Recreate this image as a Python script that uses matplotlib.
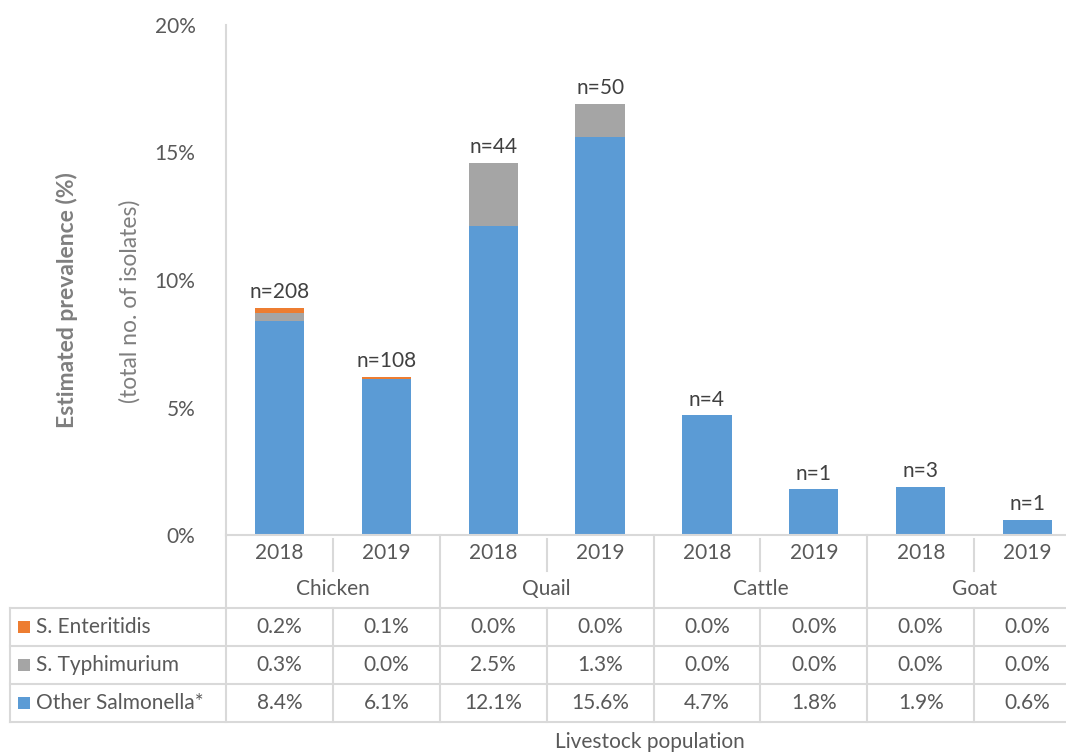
import matplotlib
matplotlib.use("Agg")
import matplotlib.pyplot as plt
from matplotlib.transforms import blended_transform_factory
import numpy as np

plt.rcParams['font.family'] = ['Lato', 'DejaVu Sans']

groups = ["Chicken", "Quail", "Cattle", "Goat"]
years = ["2018", "2019"]
series_names = ["S. Enteritidis", "S. Typhimurium", "Other Salmonella*"]
enteritidis = [0.2, 0.1, 0.0, 0.0, 0.0, 0.0, 0.0, 0.0]
typhimurium = [0.3, 0.0, 2.5, 1.3, 0.0, 0.0, 0.0, 0.0]
other = [8.4, 6.1, 12.1, 15.6, 4.7, 1.8, 1.9, 0.6]
n_labels = ["n=208", "n=108", "n=44", "n=50", "n=4", "n=1", "n=3", "n=1"]
colors = {"S. Enteritidis": "#ED7D31", "S. Typhimurium": "#A5A5A5", "Other Salmonella*": "#5B9BD5"}

W, H = 1066, 754
fig = plt.figure(figsize=(W / 100, H / 100), dpi=100)
ax = fig.add_axes([226 / W, (H - 535) / H, (1081 - 226) / W, 510 / H])

x = np.arange(len(other))
bw = 0.46
ax.bar(x, other, bw, color=colors["Other Salmonella*"], zorder=2)
ax.bar(x, typhimurium, bw, bottom=other, color=colors["S. Typhimurium"], zorder=2)
bot3 = np.array(other) + np.array(typhimurium)
ax.bar(x, enteritidis, bw, bottom=bot3, color=colors["S. Enteritidis"], zorder=2)
tot = bot3 + np.array(enteritidis)
for xi, t, lab in zip(x, tot, n_labels):
    ax.annotate(lab, (xi, t), xytext=(0, 4), textcoords="offset points",
                ha="center", va="bottom", fontsize=15, color="#404040")

ax.set_xlim(-0.5, len(other) - 0.5)
ax.set_ylim(0, 20)
ax.set_yticks([0, 5, 10, 15, 20])
ax.set_yticklabels([f"{v}%" for v in [0, 5, 10, 15, 20]], fontsize=15, color="#595959")
ax.tick_params(axis="y", length=0, pad=22)
ax.set_xticks([])
for s in ["top", "right", "bottom"]:
    ax.spines[s].set_visible(False)
ax.spines["left"].set_color("#D9D9D9")
ax.spines["left"].set_linewidth(1.5)

fig.text(67 / W, 1 - 300 / H, "Estimated prevalence (%)", rotation=90, ha="center", va="center",
         fontsize=16.5, fontweight="bold", color="#7F7F7F")
fig.text(130 / W, 1 - 301 / H, "(total no. of isolates)", rotation=90, ha="center", va="center",
         fontsize=16.5, color="#7F7F7F")

# table
def fy(py):
    return 1 - py / H

tr = blended_transform_factory(ax.transData, fig.transFigure)
ftr = fig.transFigure
gc = "#D9D9D9"
lw = 1.5
tc = "#595959"
fs = 15

y_axis = 535
y_year_mid = 553
y_grp_mid = 589
y_top = 608
row_h = 38
ncols = len(other)
edges = np.arange(ncols + 1) - 0.5

def vline(xv, py0, py1, transform):
    fig.add_artist(plt.Line2D([xv, xv], [fy(py0), fy(py1)], transform=transform, color=gc, lw=lw))

fig.add_artist(plt.Line2D([edges[0], edges[-1]], [fy(y_axis), fy(y_axis)], transform=tr, color=gc, lw=lw))
for i in range(ncols):
    fig.text(x[i], fy(y_year_mid), years[i % 2], transform=tr, ha="center", va="center",
             fontsize=fs, color=tc)
for g in range(len(groups)):
    vline(edges[2 * g + 1], y_axis + 4, 571, tr)
for g in range(len(groups) + 1):
    vline(edges[2 * g], y_axis, y_top, tr)
for g, name in enumerate(groups):
    fig.text(2 * g + 0.5, fy(y_grp_mid), name, transform=tr, ha="center", va="center",
             fontsize=fs, color=tc)

rows = [enteritidis, typhimurium, other]
nrow = len(rows)
left_px = 10
for r in range(nrow + 1):
    py = y_top + r * row_h
    fig.add_artist(plt.Line2D([left_px / W, 1.0], [fy(py), fy(py)], transform=ftr, color=gc, lw=lw))
vline(left_px / W, y_top, y_top + nrow * row_h, ftr)
for e in edges:
    vline(e, y_top, y_top + nrow * row_h, tr)
for r, (name, vals) in enumerate(zip(series_names, rows)):
    cy = y_top + (r + 0.5) * row_h
    fig.patches.append(plt.Rectangle((18 / W, fy(cy + 6)), 12 / W, 12 / H, transform=ftr,
                                     facecolor=colors[name], edgecolor="none"))
    fig.text(36 / W, fy(cy), name, transform=ftr, ha="left", va="center", fontsize=fs, color=tc)
    for i, v in enumerate(vals):
        fig.text(x[i], fy(cy), f"{v:.1f}%", transform=tr, ha="center", va="center",
                 fontsize=fs, color=tc)

fig.text(650 / W, fy(742), "Livestock population", ha="center", va="center", fontsize=fs, color=tc)

fig.savefig("out.png", dpi=100)
